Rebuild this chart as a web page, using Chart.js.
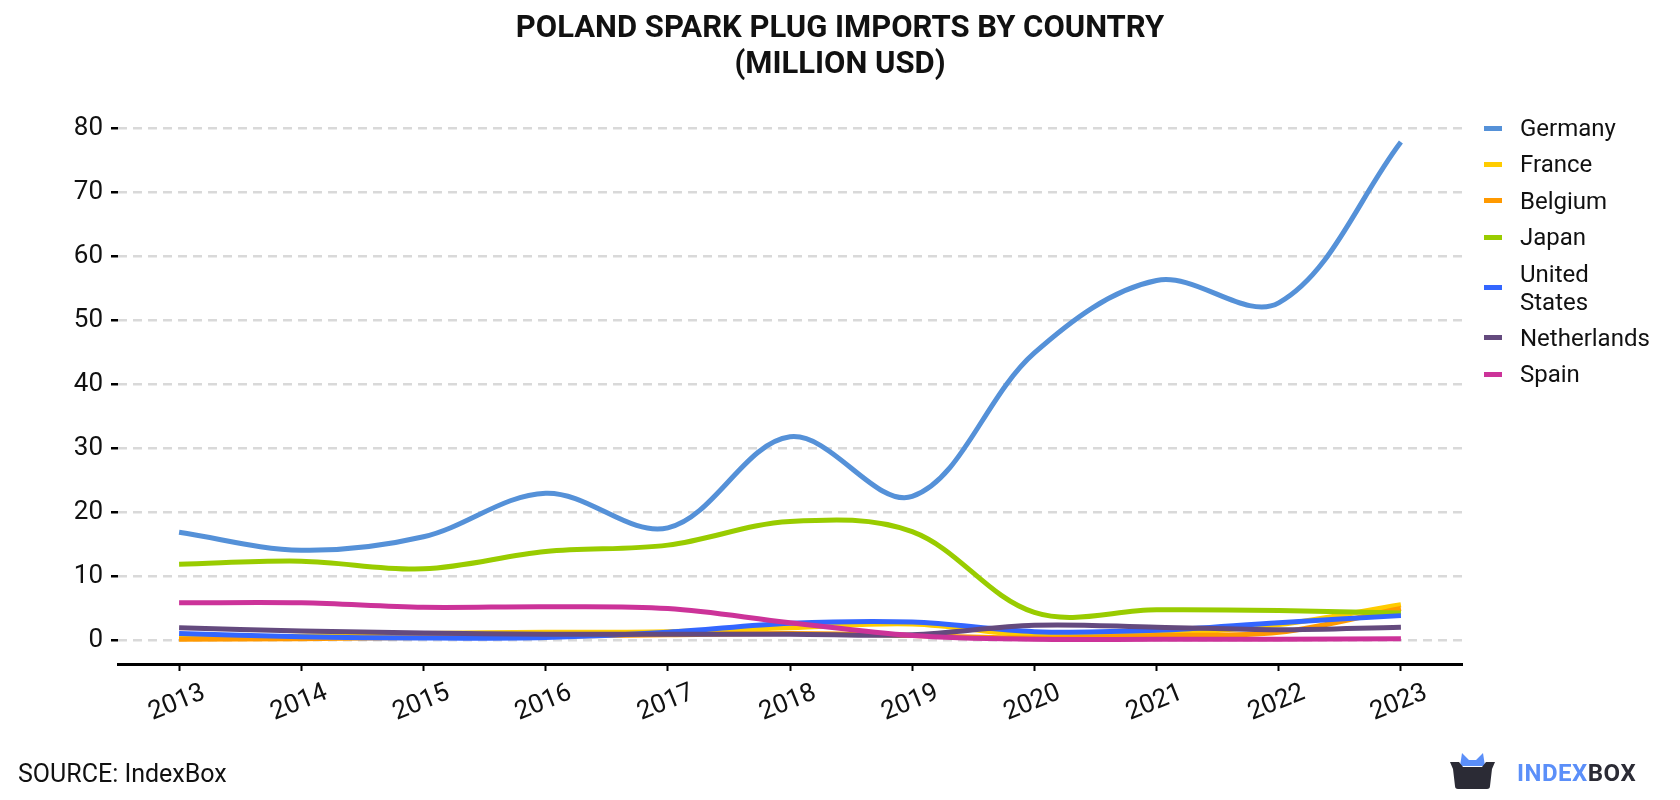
<!DOCTYPE html>
<html>
<head>
<meta charset="utf-8">
<script src="https://cdn.jsdelivr.net/npm/chart.js@4.4.0/dist/chart.umd.min.js"></script>
<style>
    body { margin: 0; background: #fff; font-family: Roboto, sans-serif; }
    #wrap { position: relative; width: 1680px; height: 800px; overflow: hidden; }
    #grafico { position: absolute; left: 0; top: 0; }
    #titulo { position: absolute; top: 9px; left: 0; width: 1680px; text-align: center; font-weight: bold; font-size: 31px; line-height: 36px; color: #111; }
    #legenda { position: absolute; left: 1484px; top: 114px; }
    .item { display: flex; align-items: center; margin-bottom: 8.4px; }
    .marca { width: 18px; height: 5px; margin-right: 18px; flex: none; }
    .nome { font-size: 24px; line-height: 28px; color: #111; width: 140px; }
    #fonte { position: absolute; left: 18px; top: 759px; font-size: 25px; color: #111; }
    #logo { position: absolute; left: 1450px; top: 753px; }
    #logoTexto { position: absolute; left: 1517px; top: 759px; font-weight: bold; font-size: 24px; letter-spacing: 0.5px; }
</style>
</head>
<body>
<div id="wrap">
    <canvas id="grafico" width="1680" height="800"></canvas>
    <div id="titulo">POLAND SPARK PLUG IMPORTS BY COUNTRY<br>(MILLION USD)</div>
    <div id="legenda"></div>
    <div id="fonte">SOURCE: IndexBox</div>
    <svg id="logo" width="46" height="37" viewBox="0 0 46 37">
        <path d="M10,13 L12,0 L19,7 L26,7 L33,0 L35,13 Z" fill="#5b8ff9"/>
        <path d="M0,9 L9,9 L13,14 L32,14 L36,9 L45,9 L42,16 L40,33 Q40,36 37,36 L8,36 Q5,36 5,33 L3,16 Z" fill="#2b2b35"/>
    </svg>
    <div id="logoTexto"><span style="color:#5b8ff9">INDEX</span><span style="color:#2b2b35">BOX</span></div>
</div>
<script>
const anos = ['2013', '2014', '2015', '2016', '2017', '2018', '2019', '2020', '2021', '2022', '2023'];
const paises = ['Germany', 'France', 'Belgium', 'Japan', 'United States', 'Netherlands', 'Spain'];
const cores = ['#5591d8', '#ffcc00', '#ff9900', '#99cc00', '#3366ff', '#644a7e', '#cc3399'];

const germany = [16.9, 14.1, 16.2, 23.0, 17.6, 31.8, 22.5, 44.9, 56.2, 52.7, 77.8];
const france = [0.4, 0.7, 1.1, 1.3, 1.4, 2.0, 2.6, 0.8, 1.0, 2.5, 5.6];
const belgium = [0.2, 0.3, 0.5, 0.7, 0.9, 1.1, 0.8, 0.4, 0.8, 1.3, 5.0];
const japan = [11.9, 12.4, 11.2, 13.9, 14.9, 18.6, 17.0, 4.4, 4.8, 4.7, 4.3];
const unitedStates = [1.1, 0.6, 0.4, 0.5, 1.3, 2.7, 2.9, 1.4, 1.6, 2.8, 3.9];
const netherlands = [2.0, 1.5, 1.2, 1.0, 1.0, 1.0, 0.9, 2.4, 2.1, 1.7, 2.1];
const spain = [5.9, 5.9, 5.2, 5.3, 5.0, 2.8, 0.8, 0.2, 0.2, 0.2, 0.3];

const yTicks = [0, 10, 20, 30, 40, 50, 60, 70, 80];

const series = [germany, france, belgium, japan, unitedStates, netherlands, spain];

// legenda em html (United States quebra em duas linhas)
let legenda = document.querySelector('#legenda');
paises.forEach((p, i) => {
    legenda.innerHTML += '<div class="item"><div class="marca" style="background:' + cores[i] + '"></div><div class="nome">' + p.replace(' ', '<br>') + '</div></div>';
});

// rótulos do eixo x inclinados e centralizados
const rotulosX = {
    id: 'rotulosX',
    afterDraw(chart) {
        const ctx = chart.ctx;
        const x = chart.scales.x;
        ctx.save();
        ctx.font = '26px Roboto';
        ctx.fillStyle = '#111';
        ctx.textAlign = 'center';
        ctx.textBaseline = 'middle';
        anos.forEach((a, i) => {
            ctx.save();
            ctx.translate(x.getPixelForTick(i) - 2, 703);
            ctx.rotate(-22 * Math.PI / 180);
            ctx.fillText(a, 0, 0);
            ctx.restore();
        });
        ctx.restore();
    }
};

new Chart(document.getElementById('grafico'), {
    type: 'line',
    data: {
        labels: anos,
        datasets: paises.map((p, i) => ({
            label: p,
            data: series[i],
            borderColor: cores[i],
            backgroundColor: cores[i],
            borderWidth: 5,
            tension: 0.35,
            pointRadius: 0,
            fill: false,
            order: paises.length - i
        }))
    },
    options: {
        responsive: false,
        animation: false,
        layout: { padding: { top: 128, right: 218, bottom: 0, left: 0 } },
        plugins: {
            legend: { display: false },
            tooltip: { enabled: false }
        },
        scales: {
            x: {
                offset: true,
                grid: { offset: false, drawOnChartArea: false, tickColor: '#000', tickWidth: 2, tickLength: 7 },
                border: { display: true, color: '#000', width: 3 },
                ticks: { display: false },
                afterFit(scale) { scale.height = 136; }
            },
            y: {
                min: -3.65,
                max: 80,
                afterBuildTicks(scale) { scale.ticks = yTicks.map(v => ({ value: v })); },
                grid: { color: '#d9d9d9', lineWidth: 2.5, tickColor: '#000', tickWidth: 2.5, tickLength: 7, tickBorderDash: [] },
                border: { display: false, dash: [9, 6] },
                ticks: { font: { family: 'Roboto', size: 26 }, color: '#111', padding: 8 },
                afterFit(scale) { scale.width = 118; }
            }
        }
    },
    plugins: [rotulosX]
});
</script>
</body>
</html>
